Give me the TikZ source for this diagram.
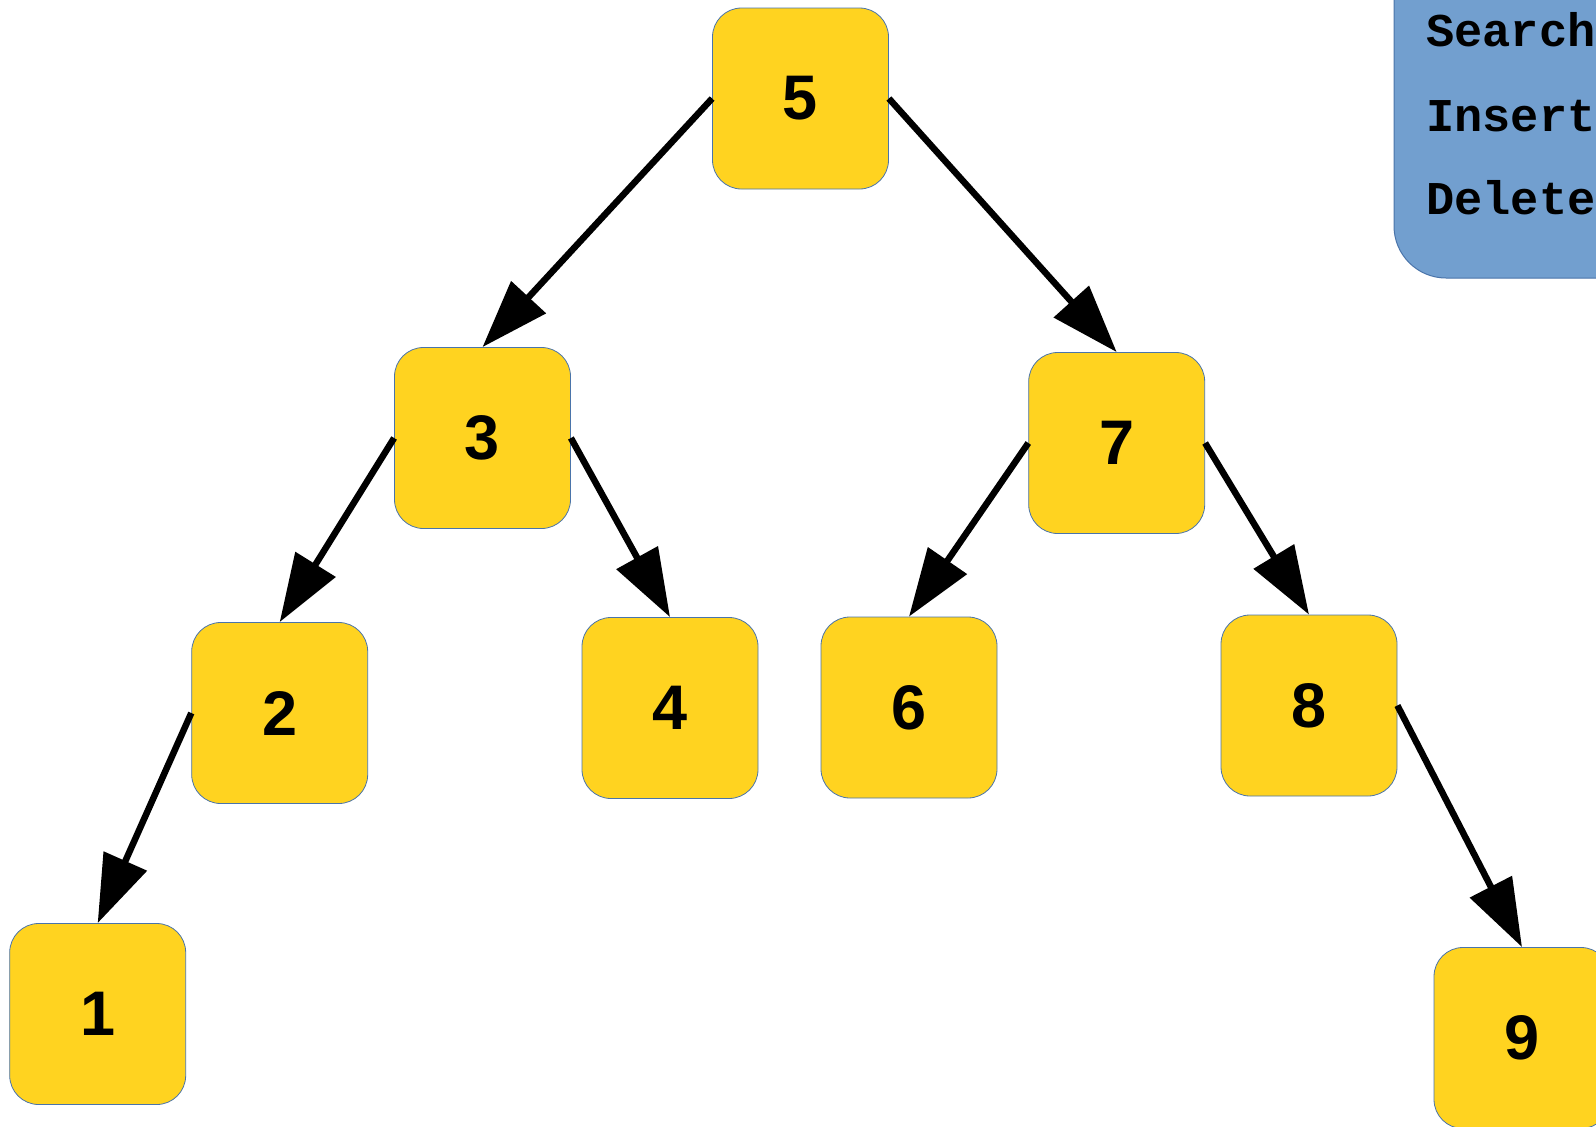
\documentclass[tikz,border=0pt]{standalone}
\usepackage{fontspec}
\setmainfont{Liberation Sans}
\newfontfamily\menufont{Liberation Mono}
\usetikzlibrary{arrows.meta}
\definecolor{nodeyellow}{HTML}{FFD320}
\definecolor{nodeedge}{HTML}{4A74AA}
\definecolor{menublue}{HTML}{729FCF}
\definecolor{menuedge}{HTML}{4A74AA}
\begin{document}
\begin{tikzpicture}[x=1pt,y=-1pt,
  treenode/.style={draw=nodeedge, line width=0.8pt, fill=nodeyellow,
    rounded corners=29pt, minimum width=176pt, minimum height=181pt,
    inner sep=0pt, font=\fontsize{63}{63}\selectfont\bfseries},
  edge/.style={line width=6.5pt, -{Triangle[length=68pt,width=46pt]}},
  menutext/.style={anchor=base west, inner sep=0pt,
    font=\menufont\fontsize{47}{47}\selectfont\bfseries}]
\useasboundingbox (0,0) rectangle (1596,1127);
% menu box
\draw[draw=menuedge, fill=menublue, line width=1pt, rounded corners=52pt]
  (1394,-80) rectangle (1900,278);
\node[menutext] (search) at (1426,46.5) {Search};
\node[menutext] (insert) at (1426,131.5) {Insert};
\node[menutext] (delete) at (1426,214.5) {Delete};
% tree nodes
\node[treenode] (n5) at (800.5,98.5) {5};
\node[treenode] (n3) at (482.5,438) {3};
\node[treenode] (n7) at (1116.7,443) {7};
\node[treenode] (n2) at (279.7,713) {2};
\node[treenode] (n4) at (670,708) {4};
\node[treenode] (n6) at (909,707.5) {6};
\node[treenode] (n8) at (1309,705.5) {8};
\node[treenode] (n1) at (97.7,1014) {1};
\node[treenode] (n9) at (1522,1038) {9};
% edges
\draw[edge] (n5.west) -- (n3.north);
\draw[edge] (n5.east) -- (n7.north);
\draw[edge] (n3.west) -- (n2.north);
\draw[edge] (n3.east) -- (n4.north);
\draw[edge] (n7.west) -- (n6.north);
\draw[edge] (n7.east) -- (n8.north);
\draw[edge] (n2.west) -- (n1.north);
\draw[edge] (n8.east) -- (n9.north);
\end{tikzpicture}
\end{document}
